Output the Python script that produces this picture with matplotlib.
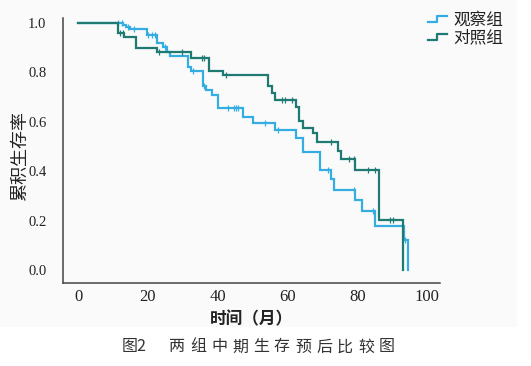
import numpy as np
import matplotlib
matplotlib.use("Agg")
import matplotlib.pyplot as plt
from matplotlib.lines import Line2D
from matplotlib.patches import Rectangle
from matplotlib.legend_handler import HandlerBase

# ---- data ----
obs_times = [13.0, 13.7, 15.0, 19.7, 22.5, 24.4, 25.4, 26.4, 31.6, 32.4, 35.7, 36.6,
             38.3, 40.1, 47.4, 50.2, 56.4, 62.5, 64.4, 69.3, 72.5, 73.4, 79.4, 81.3,
             85.1, 93.4, 94.4]
obs_surv = [0.991, 0.983, 0.976, 0.953, 0.919, 0.901, 0.881, 0.866, 0.823, 0.806, 0.745, 0.729,
            0.709, 0.656, 0.621, 0.596, 0.567, 0.534, 0.479, 0.405, 0.367, 0.324, 0.283, 0.239,
            0.178, 0.121, 0.0]
obs_censor = [11.5, 12.5, 14.4, 16.1, 20.1, 21.1, 22.1, 24.9, 33.0, 36.1, 42.9, 44.7,
              45.3, 45.9, 53.6, 57.4, 71.7, 79.2, 84.6, 93.6]

ctl_times = [11.4, 13.3, 16.6, 22.5, 32.4, 37.4, 41.5, 54.4, 55.5, 56.5, 62.5, 63.4,
             64.4, 67.4, 68.4, 74.6, 75.4, 79.4, 86.3, 93.2]
ctl_surv = [0.960, 0.943, 0.899, 0.881, 0.860, 0.807, 0.789, 0.743, 0.717, 0.688, 0.661, 0.603,
            0.576, 0.553, 0.519, 0.483, 0.448, 0.405, 0.202, 0.0]
ctl_censor = [12.0, 12.8, 23.3, 29.7, 35.4, 36.2, 42.3, 58.4, 59.3, 61.4, 72.4, 77.5,
              79.1, 83.2, 85.1, 89.4, 90.1]

group_labels = ["观察组", "对照组"]
x_ticks = [0, 20, 40, 60, 80, 100]
y_ticks = [0.0, 0.2, 0.4, 0.6, 0.8, 1.0]
x_label = "时间（月）"
y_label = "累积生存率"
caption_head = "图2"
caption_body = "两组中期生存预后比较图"

# ---- style ----
blue = "#33ade2"
green = "#1f7a72"
cjk = "Noto Sans CJK SC"
serif = ["Liberation Serif", "DejaVu Serif"]

W, H = 531, 366
fig = plt.figure(figsize=(W / 100, H / 100), dpi=100)
fig.patch.set_facecolor("white")
# light grey panel behind the chart image (caption sits on white)
fig.patches.append(Rectangle((0, 1 - 327 / H), 517 / W, 327 / H,
                             transform=fig.transFigure, facecolor="#fafafa",
                             edgecolor="none", zorder=-10))

ax = fig.add_axes([63 / W, 83 / H, 377 / W, 265 / H])
ax.set_facecolor("none")


def draw_km(times, surv, censor, color, label):
    t = np.concatenate([[0.0], times])
    s = np.concatenate([[1.0], surv])
    line, = ax.step(t, s, where="post", color=color, lw=1.6, label=label,
                    solid_joinstyle="miter")
    idx = np.searchsorted(t, censor, side="right") - 1
    ax.plot(censor, s[idx], linestyle="none", marker="|", markersize=5,
            markeredgewidth=0.9, color=color)
    return line


l_obs = draw_km(obs_times, obs_surv, obs_censor, blue, group_labels[0])
l_ctl = draw_km(ctl_times, ctl_surv, ctl_censor, green, group_labels[1])

ax.set_xlim(-4.3, 103.7)
ax.set_ylim(-0.0526, 1.0202)
ax.set_xticks(x_ticks)
ax.set_yticks(y_ticks)
ax.set_xticklabels([str(v) for v in x_ticks])
ax.set_yticklabels([f"{v:.1f}" for v in y_ticks])
for lab in ax.get_xticklabels():
    lab.set_fontfamily(serif)
    lab.set_fontsize(12)
    lab.set_color("#222222")
for lab in ax.get_yticklabels():
    lab.set_fontfamily(serif)
    lab.set_fontsize(10.5)
    lab.set_color("#222222")
ax.tick_params(axis="both", length=0)
ax.tick_params(axis="x", pad=4)
ax.tick_params(axis="y", pad=12)

for side in ("top", "right"):
    ax.spines[side].set_visible(False)
for side in ("left", "bottom"):
    ax.spines[side].set_color("#444444")
    ax.spines[side].set_linewidth(1.1)

ax.set_xlabel(x_label, family=cjk, fontsize=12, fontweight="bold", labelpad=4,
              color="#222222")
ax.set_ylabel(y_label, family=cjk, fontsize=13, color="#222222", va="center")
ax.yaxis.set_label_coords((20 - 63) / 377, 0.48)


class StepHandler(HandlerBase):
    def create_artists(self, legend, orig_handle, xdescent, ydescent, width, height,
                       fontsize, trans):
        xs = np.array([0.0, 0.45, 0.45, 1.0]) * width - xdescent
        ys = np.array([0.2, 0.2, 0.7, 0.7]) * height - ydescent
        ln = Line2D(xs, ys, color=orig_handle.get_color(), lw=1.6)
        ln.set_transform(trans)
        return [ln]


leg = fig.legend(handles=[l_obs, l_ctl], labels=group_labels,
                 handler_map={Line2D: StepHandler()},
                 loc="upper left", bbox_to_anchor=(425 / W, 1 - 8 / H),
                 frameon=False, prop={"family": cjk, "size": 12},
                 handlelength=1.1, handletextpad=0.4, labelspacing=0.05,
                 borderaxespad=0, borderpad=0.2)
for txt in leg.get_texts():
    txt.set_color("#222222")

# caption with wide letter spacing
cap_y = 1 - 347 / H
fig.text(122 / W, cap_y, caption_head, family=cjk, fontsize=11.5, ha="left",
         va="center", color="#333333")
x0, step = 177, 21
for i, ch in enumerate(caption_body):
    fig.text((x0 + i * step) / W, cap_y, ch, family=cjk, fontsize=11.5,
             ha="center", va="center", color="#333333")

fig.savefig("out.png", dpi=100, facecolor=fig.get_facecolor())
